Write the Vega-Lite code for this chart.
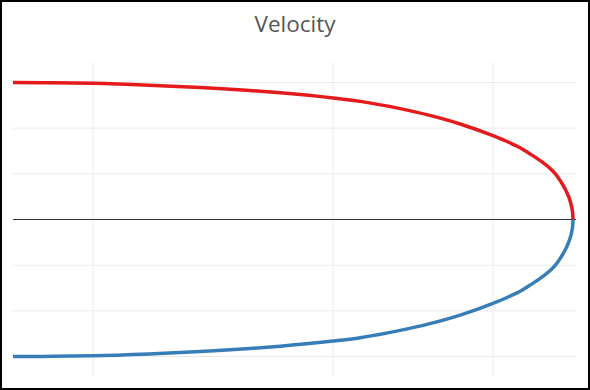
{
  "$schema": "https://vega.github.io/schema/vega-lite/v6.json",
  "width": 590,
  "height": 390,
  "padding": 0,
  "autosize": {"type": "fit", "contains": "padding"},
  "background": "white",
  "config": {
    "view": {"stroke": "#000000", "strokeWidth": 4, "fill": "white"}
  },
  "title": {
    "text": "Velocity",
    "font": "Open Sans",
    "fontSize": 22.5,
    "fontWeight": "normal",
    "color": "#555555",
    "anchor": "middle",
    "frame": "group",
    "baseline": "alphabetic",
    "offset": -54
  },
  "datasets": {
    "curve": [
      {"position": 0.00, "velocity": 3.000, "phase": "up"},
      {"position": 0.50, "velocity": 2.995, "phase": "up"},
      {"position": 1.00, "velocity": 2.982, "phase": "up"},
      {"position": 1.70, "velocity": 2.942, "phase": "up"},
      {"position": 2.34, "velocity": 2.892, "phase": "up"},
      {"position": 2.96, "velocity": 2.826, "phase": "up"},
      {"position": 3.34, "velocity": 2.775, "phase": "up"},
      {"position": 4.00, "velocity": 2.662, "phase": "up"},
      {"position": 4.34, "velocity": 2.587, "phase": "up"},
      {"position": 4.84, "velocity": 2.428, "phase": "up"},
      {"position": 5.21, "velocity": 2.280, "phase": "up"},
      {"position": 5.59, "velocity": 2.092, "phase": "up"},
      {"position": 6.00, "velocity": 1.835, "phase": "up"},
      {"position": 6.21, "velocity": 1.680, "phase": "up"},
      {"position": 6.34, "velocity": 1.570, "phase": "up"},
      {"position": 6.46, "velocity": 1.440, "phase": "up"},
      {"position": 6.59, "velocity": 1.290, "phase": "up"},
      {"position": 6.70, "velocity": 1.140, "phase": "up"},
      {"position": 6.78, "velocity": 1.000, "phase": "up"},
      {"position": 6.848, "velocity": 0.830, "phase": "up"},
      {"position": 6.918, "velocity": 0.610, "phase": "up"},
      {"position": 6.965, "velocity": 0.400, "phase": "up"},
      {"position": 6.986, "velocity": 0.250, "phase": "up"},
      {"position": 6.997, "velocity": 0.120, "phase": "up"},
      {"position": 7.00, "velocity": 0.000, "phase": "up"},
      {"position": 7.00, "velocity": 0.000, "phase": "down"},
      {"position": 6.997, "velocity": -0.120, "phase": "down"},
      {"position": 6.986, "velocity": -0.250, "phase": "down"},
      {"position": 6.965, "velocity": -0.400, "phase": "down"},
      {"position": 6.918, "velocity": -0.610, "phase": "down"},
      {"position": 6.848, "velocity": -0.830, "phase": "down"},
      {"position": 6.78, "velocity": -1.000, "phase": "down"},
      {"position": 6.70, "velocity": -1.140, "phase": "down"},
      {"position": 6.59, "velocity": -1.290, "phase": "down"},
      {"position": 6.46, "velocity": -1.440, "phase": "down"},
      {"position": 6.34, "velocity": -1.570, "phase": "down"},
      {"position": 6.21, "velocity": -1.680, "phase": "down"},
      {"position": 6.00, "velocity": -1.835, "phase": "down"},
      {"position": 5.59, "velocity": -2.092, "phase": "down"},
      {"position": 5.21, "velocity": -2.280, "phase": "down"},
      {"position": 4.84, "velocity": -2.428, "phase": "down"},
      {"position": 4.34, "velocity": -2.587, "phase": "down"},
      {"position": 4.00, "velocity": -2.662, "phase": "down"},
      {"position": 3.34, "velocity": -2.775, "phase": "down"},
      {"position": 2.96, "velocity": -2.826, "phase": "down"},
      {"position": 2.34, "velocity": -2.892, "phase": "down"},
      {"position": 1.70, "velocity": -2.942, "phase": "down"},
      {"position": 1.00, "velocity": -2.982, "phase": "down"},
      {"position": 0.50, "velocity": -2.995, "phase": "down"},
      {"position": 0.00, "velocity": -3.000, "phase": "down"}
    ],
    "hgrid": [
      {"level": -3}, {"level": -2}, {"level": -1},
      {"level": 1}, {"level": 2}, {"level": 3}
    ],
    "vgrid": [
      {"tick": 1}, {"tick": 4}, {"tick": 6}
    ],
    "zero": [
      {"level": 0}
    ]
  },
  "layer": [
    {
      "data": {"name": "hgrid"},
      "mark": {"type": "rule", "color": "#ebebeb", "strokeWidth": 1},
      "encoding": {
        "y": {"field": "level", "type": "quantitative", "axis": null,
              "scale": {"domain": [-3.7329, 4.8063], "nice": false, "zero": false}},
        "x": {"datum": 0, "type": "quantitative", "axis": null,
              "scale": {"domain": [-0.1625, 7.2125], "nice": false, "zero": false}},
        "x2": {"datum": 7.0375}
      }
    },
    {
      "data": {"name": "vgrid"},
      "mark": {"type": "rule", "color": "#ebebeb", "strokeWidth": 1},
      "encoding": {
        "x": {"field": "tick", "type": "quantitative", "axis": null,
              "scale": {"domain": [-0.1625, 7.2125], "nice": false, "zero": false}},
        "y": {"datum": -3.44, "type": "quantitative", "axis": null,
              "scale": {"domain": [-3.7329, 4.8063], "nice": false, "zero": false}},
        "y2": {"datum": 3.44}
      }
    },
    {
      "data": {"name": "zero"},
      "mark": {"type": "rule", "color": "#333333", "strokeWidth": 1},
      "encoding": {
        "y": {"field": "level", "type": "quantitative", "axis": null,
              "scale": {"domain": [-3.7329, 4.8063], "nice": false, "zero": false}},
        "x": {"datum": 0, "type": "quantitative", "axis": null,
              "scale": {"domain": [-0.1625, 7.2125], "nice": false, "zero": false}},
        "x2": {"datum": 7.0375}
      }
    },
    {
      "data": {"name": "curve"},
      "mark": {"type": "line", "strokeWidth": 3.5, "interpolate": "monotone"},
      "encoding": {
        "x": {"field": "position", "type": "quantitative", "axis": null,
              "scale": {"domain": [-0.1625, 7.2125], "nice": false, "zero": false}},
        "y": {"field": "velocity", "type": "quantitative", "axis": null,
              "scale": {"domain": [-3.7329, 4.8063], "nice": false, "zero": false}},
        "color": {"field": "phase", "type": "nominal", "legend": null,
                  "scale": {"domain": ["up", "down"], "range": ["#e41a1c", "#377eb8"]}}
      }
    }
  ]
}
